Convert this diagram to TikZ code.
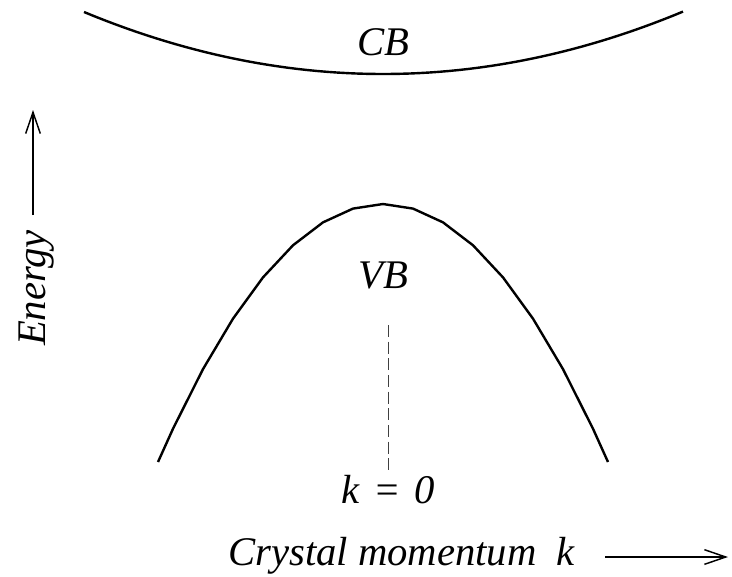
\documentclass[tikz,border=0pt]{standalone}
\usepackage{fontspec}
\setmainfont{Liberation Serif}
\usetikzlibrary{arrows.meta,positioning}

\begin{document}
\begin{tikzpicture}[x=0.75pt,y=-0.75pt,>={Straight Barb[length=16pt,width=11pt]},
  band/.style={line width=1.8pt,line join=round},
  lbl/.style={font=\fontsize{30.5}{36}\selectfont\itshape,inner sep=0pt},
  axisarrow/.style={->,line width=1.1pt}]
\useasboundingbox (0,0) rectangle (732,576);
% conduction and valence bands
\draw[band,domain=84:683,samples=60] plot (\x,{74-62*((\x-383)/299)^2});
\draw[band] plot[samples at={-225,-210,-180,...,210,225}] ({383+\x},{204+258*(\x/225)^2});
\node[lbl] (cb) at (383,42) {CB};
\node[lbl] (vb) at (383,275) {VB};
% k = 0 marker
\node[lbl,anchor=base] (kzero) at (388,503) {k\hspace{0.33em}=\hspace{0.33em}0};
\coordinate (ktop) at (388,325);
\draw[black!75,line width=0.75pt,dash pattern=on 9pt off 3.5pt] (ktop) -- (kzero.north);
% axes
\node[lbl,anchor=base west] (xlabel) at (228,565) {Crystal momentum\ \ k};
\coordinate (xtail) at (605,557);
\coordinate (xhead) at (728,557);
\draw[axisarrow] (xtail) -- (xhead);
\node[lbl,rotate=90,anchor=base] (energy) at (45,288) {Energy};
\coordinate (etail) at (33,215);
\coordinate (ehead) at (33,110);
\draw[axisarrow] (etail) -- (ehead);
\end{tikzpicture}
\end{document}
